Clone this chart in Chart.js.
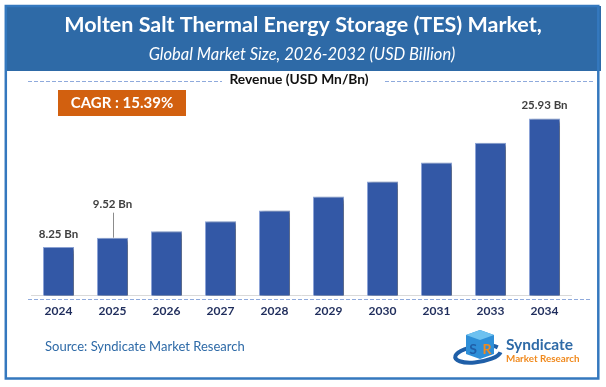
<!DOCTYPE html>
<html>
<head>
<meta charset="utf-8">
<script src="https://cdn.jsdelivr.net/npm/chart.js@4.4.1/dist/chart.umd.min.js"></script>
<style>
  html, body { margin: 0; padding: 0; background: #fff; }
  #wrap { position: relative; width: 606px; height: 387px; }
</style>
</head>
<body>
<div id="wrap"><canvas id="myChart" width="606" height="387"></canvas></div>
<script>
const years = ['2024', '2025', '2026', '2027', '2028', '2029', '2030', '2031', '2033', '2034'];
const revenue = [8.25, 9.52, 10.40, 11.77, 13.27, 15.19, 17.28, 19.88, 22.62, 25.93];
const valueLabels = ['8.25 Bn', '9.52 Bn', '', '', '', '', '', '', '', '25.93 Bn'];

const titleText = 'Molten Salt Thermal Energy Storage (TES) Market,';
const subtitleText = 'Global Market Size, 2026-2032 (USD Billion)';
const cagrText = 'CAGR : 15.39%';

const ctx = document.getElementById('myChart');

// frame, header, texts and logo
const decor = {
  id: 'decor',
  beforeDraw(chart) {
    const c = chart.ctx;
    c.save();
    c.fillStyle = '#fff';
    c.fillRect(0, 0, 606, 387);
    // header
    c.fillStyle = '#2E6AA7';
    c.fillRect(5, 6, 596, 65);
    c.fillStyle = '#fff';
    c.textAlign = 'center';
    c.textBaseline = 'middle';
    c.font = 'bold 21.5px Lato';
    c.fillText(titleText, 303, 25);
    c.font = 'italic 16.5px Lato';
    c.fillText(subtitleText, 302, 55);
    // border
    c.strokeStyle = '#3478BE';
    c.lineWidth = 2.5;
    c.strokeRect(5.8, 6, 592.5, 372.5);
    // revenue caption
    c.fillStyle = '#111';
    c.font = 'bold 13.8px Lato';
    c.fillText('Revenue (USD Mn/Bn)', 299, 80);
    c.strokeStyle = '#8FAADC';
    c.lineWidth = 1;
    c.setLineDash([4, 2]);
    c.beginPath();
    c.moveTo(28, 81.5); c.lineTo(222, 81.5);
    c.moveTo(385, 81.5); c.lineTo(594, 81.5);
    c.stroke();
    c.setLineDash([]);
    // CAGR box
    c.fillStyle = '#D2600F';
    c.fillRect(58, 90, 128, 26);
    c.fillStyle = '#fff';
    c.font = 'bold 15px Lato';
    c.fillText(cagrText, 122, 103.5);
    // source
    c.textAlign = 'left';
    c.fillStyle = '#2E6AA7';
    c.font = '13px Lato';
    c.fillText('Source: Syndicate Market Research', 45, 347);
    // logo
    c.strokeStyle = '#1F5FA8';
    c.lineWidth = 4;
    c.beginPath();
    c.ellipse(478, 354, 23, 8, -0.15, 0.2, Math.PI * 1.85);
    c.stroke();
    c.fillStyle = '#2E8FD8';
    c.beginPath();
    c.moveTo(466, 335); c.lineTo(480, 330); c.lineTo(494, 335);
    c.lineTo(494, 354); c.lineTo(480, 359); c.lineTo(466, 354);
    c.closePath(); c.fill();
    c.fillStyle = '#6EC1F0';
    c.beginPath();
    c.moveTo(466, 335); c.lineTo(480, 330); c.lineTo(494, 335); c.lineTo(480, 340);
    c.closePath(); c.fill();
    c.fillStyle = '#1F5FA8';
    c.font = 'bold 14px Lato';
    c.textAlign = 'center';
    c.fillText('S', 473, 349);
    c.fillStyle = '#F08A1E';
    c.fillText('R', 487, 349);
    c.textAlign = 'left';
    c.fillStyle = '#2E6AA7';
    c.font = 'bold 15.5px Lato';
    c.fillText('Syndicate', 506, 345);
    c.fillStyle = '#F08A1E';
    c.font = 'bold 9.8px Lato';
    c.fillText('Market Research', 506, 359);
    c.restore();
  },
  afterDraw(chart) {
    const c = chart.ctx;
    const y = chart.chartArea.bottom + 4;
    c.save();
    c.strokeStyle = '#8FAADC';
    c.lineWidth = 1.2;
    c.setLineDash([4, 2]);
    c.beginPath();
    c.moveTo(28, y); c.lineTo(592, y);
    c.stroke();
    c.restore();
  }
};

// soft shadow to the right of the bars
const barShadow = {
  id: 'barShadow',
  beforeDatasetsDraw(chart) {
    const c = chart.ctx;
    c.save();
    c.shadowColor = 'rgba(0,0,0,0.35)';
    c.shadowOffsetX = 3;
    c.shadowOffsetY = 1;
    c.shadowBlur = 3;
  },
  afterDatasetsDraw(chart) {
    chart.ctx.restore();
  }
};

// value labels above selected bars
const valueTags = {
  id: 'valueTags',
  afterDatasetsDraw(chart) {
    const c = chart.ctx;
    const meta = chart.getDatasetMeta(0);
    c.save();
    c.font = 'bold 11.5px Lato';
    c.fillStyle = '#404040';
    c.textAlign = 'center';
    c.textBaseline = 'middle';
    meta.data.forEach((bar, i) => {
      const txt = valueLabels[i];
      if (!txt) return;
      if (i === 1) {
        c.strokeStyle = '#8C8C8C';
        c.lineWidth = 1;
        c.beginPath();
        c.moveTo(Math.round(bar.x) + 0.5, bar.y);
        c.lineTo(Math.round(bar.x) + 0.5, bar.y - 25);
        c.stroke();
        c.fillText(txt, bar.x, bar.y - 33);
      } else {
        c.fillText(txt, bar.x, bar.y - 13);
      }
    });
    c.restore();
  }
};

new Chart(ctx, {
  type: 'bar',
  data: {
    labels: years,
    datasets: [
      {
        label: 'Revenue',
        data: revenue,
        backgroundColor: '#3358A6',
        borderColor: '#8FA6D8',
        borderWidth: 1,
        categoryPercentage: 1,
        barPercentage: 0.575,
      },
    ],
  },
  options: {
    responsive: false,
    animation: false,
    layout: {
      padding: { left: 31.5, right: 34.5, top: 103.6, bottom: 61.1 },
    },
    plugins: {
      legend: { display: false },
      tooltip: { enabled: false },
    },
    scales: {
      y: {
        display: false,
        min: 1.55,
        max: 28,
      },
      x: {
        grid: { display: false, drawTicks: false },
        border: { display: true, color: '#D9D9D9', width: 1 },
        ticks: {
          padding: 8,
          color: '#1F2D5C',
          font: { family: 'Lato', weight: 'bold', size: 12 },
        },
      },
    },
  },
  plugins: [decor, barShadow, valueTags],
});
</script>
</body>
</html>
